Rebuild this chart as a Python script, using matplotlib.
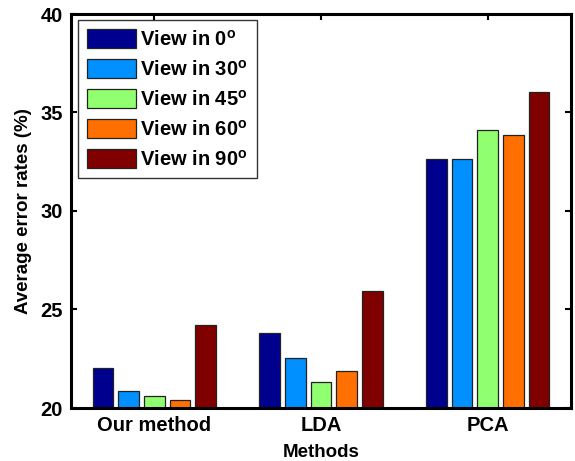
import matplotlib
matplotlib.use("Agg")
import matplotlib.pyplot as plt
import numpy as np

plt.rcParams['font.family'] = ['Liberation Sans', 'DejaVu Sans']
plt.rcParams['font.weight'] = 'bold'
plt.rcParams['mathtext.fontset'] = 'custom'
plt.rcParams['mathtext.rm'] = 'Liberation Sans:bold'
plt.rcParams['mathtext.bf'] = 'Liberation Sans:bold'
plt.rcParams['mathtext.it'] = 'Liberation Sans:bold'

methods = ["Our method", "LDA", "PCA"]
series_labels = [r"View in 0$^{\mathrm{o}}$", r"View in 30$^{\mathrm{o}}$",
                 r"View in 45$^{\mathrm{o}}$", r"View in 60$^{\mathrm{o}}$",
                 r"View in 90$^{\mathrm{o}}$"]
view0 = [22.05, 23.82, 32.65]
view30 = [20.88, 22.55, 32.62]
view45 = [20.61, 21.32, 34.10]
view60 = [20.43, 21.88, 33.87]
view90 = [24.21, 25.96, 36.05]
colors = ["#00008F", "#0090FF", "#90FF70", "#FF7000", "#800000"]
yticks = [20, 25, 30, 35, 40]

series = [view0, view30, view45, view60, view90]

fig = plt.figure(figsize=(5.75, 4.61), dpi=100)
ax = fig.add_axes([71/575, 53/461, 500/575, 394/461])

x = np.arange(1, len(methods) + 1)
n = len(series)
group_w = n / (n + 1.5)
step = group_w / n
bar_w = step * 0.8
for i, (vals, c, lab) in enumerate(zip(series, colors, series_labels)):
    offs = (i - (n - 1) / 2) * step
    ax.bar(x + offs, np.array(vals) - 20, bottom=20, width=bar_w, color=c,
           edgecolor='#222222', linewidth=0.9, label=lab, zorder=2)

ax.set_xlim(0.5, 3.5)
ax.set_ylim(20, 40)
ax.set_yticks(yticks)
ax.set_xticks(x)
ax.set_xticklabels(methods)
ax.tick_params(direction='in', length=4, width=1.5, top=True, right=True,
               labelsize=14.5, pad=6)
for lab in ax.get_xticklabels() + ax.get_yticklabels():
    lab.set_fontweight('bold')
for s in ax.spines.values():
    s.set_linewidth(2.2)
    s.set_zorder(5)

ax.set_xlabel("Methods", fontsize=13.5, fontweight='bold', labelpad=6)
ax.set_ylabel("Average error rates (%)", fontsize=13.5, fontweight='bold', labelpad=6)

leg = ax.legend(loc='upper left', bbox_to_anchor=(0.014, 0.985), borderaxespad=0,
                handlelength=2.45, handleheight=1.1,
                handletextpad=0.2, labelspacing=0.47, borderpad=0.45,
                frameon=True, fancybox=False, edgecolor='black',
                prop={'weight': 'bold', 'size': 14.5})
leg.get_frame().set_linewidth(1.0)

fig.savefig("out.png", dpi=100)
